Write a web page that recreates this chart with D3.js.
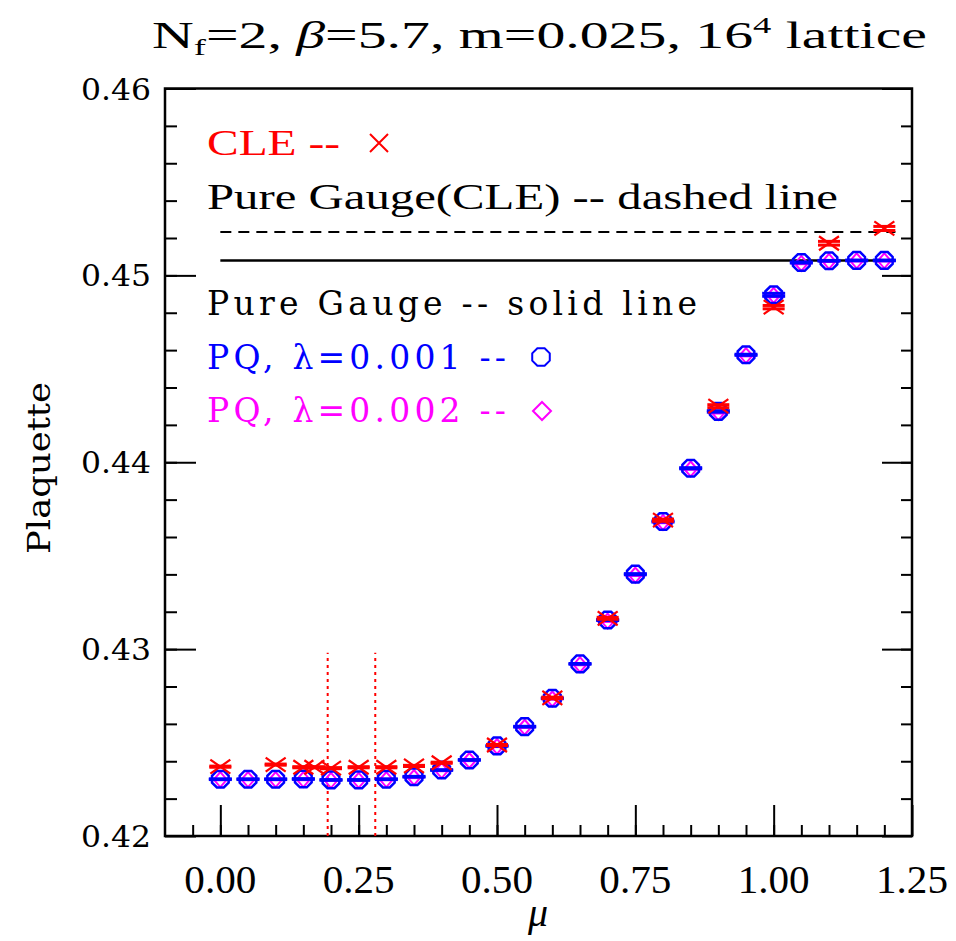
<!DOCTYPE html>
<html>
<head>
<meta charset="utf-8">
<script src="https://cdn.jsdelivr.net/npm/d3@7"></script>
<style>
  body { margin: 0; background: #fff; }
  svg { display: block; }
</style>
</head>
<body>
<div class="chart"></div>
<script>
const width = 956;
const height = 941;
const margin = { left: 165, right: 44, top: 88.5, bottom: 105 };

// mu values of the PQ runs
const mu = [0, 0.05, 0.10, 0.15, 0.20, 0.25, 0.30, 0.35, 0.40, 0.45, 0.50, 0.55, 0.60,
            0.65, 0.70, 0.75, 0.80, 0.85, 0.90, 0.95, 1.00, 1.05, 1.10, 1.15, 1.20];
// PQ, lambda=0.001 (blue octagons)
const pq001 = [0.42304, 0.42304, 0.42304, 0.42305, 0.42300, 0.42300, 0.42304, 0.42317, 0.42353,
               0.42407, 0.42482, 0.42585, 0.42737, 0.42921, 0.43156, 0.43401, 0.43683, 0.43968,
               0.44272, 0.44575, 0.44896, 0.45069, 0.45078, 0.45080, 0.45080];
const pq001Err = [0.00002, 0.00002, 0.00002, 0.00002, 0.00002, 0.00002, 0.00002, 0.00002, 0.00002,
                  0.00002, 0.00002, 0.00002, 0.00002, 0.00002, 0.00003, 0.00003, 0.00003, 0.00003,
                  0.00004, 0.00003, 0.00008, 0.00003, 0.00002, 0.00002, 0.00002];
// PQ, lambda=0.002 (magenta diamonds)
const pq002 = [0.42302, 0.42302, 0.42302, 0.42302, 0.42298, 0.42298, 0.42302, 0.42313, 0.42350,
               0.42404, 0.42479, 0.42582, 0.42733, 0.42917, 0.43150, 0.43396, 0.43678, 0.43964,
               0.44266, 0.44571, 0.44893, 0.45064, 0.45075, 0.45078, 0.45078];

// CLE (red crosses)
const cleMu = [0, 0.10, 0.15, 0.17, 0.20, 0.25, 0.30, 0.35, 0.40, 0.50, 0.60, 0.70, 0.80, 0.90, 1.00, 1.10, 1.20];
const cle = [0.42371, 0.42382, 0.42368, 0.42368, 0.42363, 0.42368, 0.42368, 0.42375, 0.42392,
             0.42487, 0.42739, 0.43165, 0.43690, 0.44300, 0.44830, 0.45172, 0.45251];
const cleErr = [0.00003, 0.00003, 0.00003, 0.00003, 0.00003, 0.00003, 0.00003, 0.00003, 0.00003,
                0.00003, 0.00004, 0.00005, 0.00006, 0.00008, 0.00009, 0.00010, 0.00011];

// pure gauge references
const pureGaugeCLE = 0.45232;   // dashed
const pureGauge = 0.45080;      // solid
const refRange = [0, 1.22];
// red dotted markers
const dottedMu = [0.194, 0.28];
const dottedTop = 0.4298;

// axes
const xMajor = [0, 0.25, 0.5, 0.75, 1.0, 1.25];
const xLabels = ["0.00", "0.25", "0.50", "0.75", "1.00", "1.25"];
const xMinor = d3.range(-0.05, 1.25, 0.05);
const yMajor = [0.42, 0.43, 0.44, 0.45, 0.46];
const yLabels = ["0.42", "0.43", "0.44", "0.45", "0.46"];
const yMinor = d3.range(0.422, 0.46, 0.002);

const legendRows = [
    { text: "CLE --", color: "red", font: "serif", len: 133, y: 155 },
    { text: "Pure Gauge(CLE) -- dashed line", color: "black", font: "serif", len: 631, y: 209 },
    { text: "Pure Gauge -- solid line", color: "black", font: "wide", len: 490, y: 315 },
    { text: "PQ, \u03bb=0.001 --", color: "blue", font: "wide", len: 299, y: 369 },
    { text: "PQ, \u03bb=0.002 --", color: "magenta", font: "wide", len: 299, y: 422 }
];

const serif = "'Liberation Serif', 'DejaVu Serif', serif";
const wide = "'DejaVu Serif', 'Liberation Serif', serif";

const svg = d3.select(".chart").append("svg")
    .attr("width", width)
    .attr("height", height);

const x = d3.scaleLinear()
    .domain([-0.1, 1.25])
    .range([margin.left, width - margin.right]);

const y = d3.scaleLinear()
    .domain([0.42, 0.46])
    .range([height - margin.bottom, margin.top]);

const x0 = margin.left, x1 = width - margin.right;
const y0 = height - margin.bottom, y1 = margin.top;

// inward ticks on bottom, left and right
function tickAxis(axis, transform, size) {
    svg.append("g")
        .attr("transform", transform)
        .call(axis.tickSize(size).tickSizeOuter(0).tickFormat(""))
        .call(g => g.select(".domain").remove())
        .call(g => g.selectAll("line").attr("stroke", "black").attr("stroke-width", 2));
}
tickAxis(d3.axisBottom(x).tickValues(xMajor), `translate(0,${y0})`, -31);
tickAxis(d3.axisBottom(x).tickValues(xMinor), `translate(0,${y0})`, -11);
tickAxis(d3.axisLeft(y).tickValues(yMajor), `translate(${x0},0)`, -31);
tickAxis(d3.axisLeft(y).tickValues(yMinor), `translate(${x0},0)`, -12);
tickAxis(d3.axisRight(y).tickValues(yMajor), `translate(${x1},0)`, -30);
tickAxis(d3.axisRight(y).tickValues(yMinor), `translate(${x1},0)`, -11);

// frame
svg.append("rect")
    .attr("x", x0).attr("y", y1)
    .attr("width", x1 - x0).attr("height", y0 - y1)
    .attr("fill", "none")
    .attr("stroke", "black")
    .attr("stroke-width", 2.5);

// tick labels
svg.selectAll("text.xlab")
    .data(xMajor)
    .enter().append("text")
    .attr("class", "xlab")
    .attr("x", d => x(d))
    .attr("y", 893)
    .attr("text-anchor", "middle")
    .attr("font-family", serif)
    .attr("font-size", 39)
    .attr("textLength", 72)
    .attr("lengthAdjust", "spacingAndGlyphs")
    .text((d, i) => xLabels[i]);

svg.selectAll("text.ylab")
    .data(yMajor)
    .enter().append("text")
    .attr("class", "ylab")
    .attr("x", 151)
    .attr("y", d => y(d) + 11)
    .attr("text-anchor", "end")
    .attr("font-family", wide)
    .attr("font-size", 30)
    .attr("textLength", 70)
    .attr("lengthAdjust", "spacingAndGlyphs")
    .text((d, i) => yLabels[i]);

// axis titles
svg.append("text")
    .attr("x", 538)
    .attr("y", 926)
    .attr("text-anchor", "middle")
    .attr("font-family", serif)
    .attr("font-style", "italic")
    .attr("font-size", 40)
    .text("\u03bc");

svg.append("text")
    .attr("transform", "translate(50,468) rotate(-90)")
    .attr("text-anchor", "middle")
    .attr("font-family", wide)
    .attr("font-size", 31)
    .attr("textLength", 172)
    .attr("lengthAdjust", "spacingAndGlyphs")
    .text("Plaquette");

// title
const title = svg.append("text")
    .attr("x", 152)
    .attr("y", 48)
    .attr("font-family", serif)
    .attr("font-size", 38)
    .attr("textLength", 775)
    .attr("lengthAdjust", "spacingAndGlyphs");
title.append("tspan").text("N");
title.append("tspan").attr("font-size", 24).attr("dy", 7).text("f");
title.append("tspan").attr("dy", -7).text("=2,  ");
title.append("tspan").attr("font-style", "italic").text("\u03b2");
title.append("tspan").text("=5.7,  m=0.025,  16");
title.append("tspan").attr("font-size", 24).attr("dy", -15).text("4");
title.append("tspan").attr("dy", 15).text("  lattice");

// reference lines
svg.append("line")
    .attr("x1", x(refRange[0])).attr("x2", x(refRange[1]))
    .attr("y1", y(pureGaugeCLE)).attr("y2", y(pureGaugeCLE))
    .attr("stroke", "black").attr("stroke-width", 2)
    .attr("stroke-dasharray", "11 7");

svg.append("line")
    .attr("x1", x(refRange[0])).attr("x2", x(refRange[1]))
    .attr("y1", y(pureGauge)).attr("y2", y(pureGauge))
    .attr("stroke", "black").attr("stroke-width", 2.5);

svg.selectAll("line.dotted")
    .data(dottedMu)
    .enter().append("line")
    .attr("class", "dotted")
    .attr("x1", d => x(d)).attr("x2", d => x(d))
    .attr("y1", y(0.42)).attr("y2", y(dottedTop))
    .attr("stroke", "red").attr("stroke-width", 2)
    .attr("stroke-dasharray", "3 4");

// marker shapes
const octagon = r => d3.line()(d3.range(8).map(i => {
    const a = Math.PI / 8 + i * Math.PI / 4;
    return [r * Math.cos(a), r * Math.sin(a)];
})) + "Z";
const diamond = (w, h) => `M0,${-h}L${w},0L0,${h}L${-w},0Z`;
const cross = (w, h) => `M${-w},${-h}L${w},${h}M${-w},${h}L${w},${-h}`;

// error bars: vertical line plus caps
function errorBars(xs, ys, es, color, capW, sw) {
    const g = svg.append("g").attr("stroke", color).attr("stroke-width", sw);
    xs.forEach((m, i) => {
        const cx = x(m), lo = y(ys[i] - es[i]), hi = y(ys[i] + es[i]);
        g.append("line").attr("x1", cx).attr("x2", cx).attr("y1", lo).attr("y2", hi);
        g.append("line").attr("x1", cx - capW).attr("x2", cx + capW).attr("y1", lo).attr("y2", lo);
        g.append("line").attr("x1", cx - capW).attr("x2", cx + capW).attr("y1", hi).attr("y2", hi);
    });
}

// magenta diamonds
errorBars(mu, pq002, pq001Err, "magenta", 10, 2.5);
svg.selectAll("path.pq002")
    .data(mu)
    .enter().append("path")
    .attr("class", "pq002")
    .attr("transform", (d, i) => `translate(${x(d)},${y(pq002[i])})`)
    .attr("d", diamond(6.5, 7.5))
    .attr("fill", "none").attr("stroke", "magenta").attr("stroke-width", 2);

// blue octagons
svg.selectAll("path.pq001")
    .data(mu)
    .enter().append("path")
    .attr("class", "pq001")
    .attr("transform", (d, i) => `translate(${x(d)},${y(pq001[i])})`)
    .attr("d", octagon(9))
    .attr("fill", "none").attr("stroke", "blue").attr("stroke-width", 2.5);
errorBars(mu, pq001, pq001Err, "blue", 11.5, 3);

// red crosses
errorBars(cleMu, cle, cleErr, "red", 11, 3);
svg.selectAll("path.cle")
    .data(cleMu)
    .enter().append("path")
    .attr("class", "cle")
    .attr("transform", (d, i) => `translate(${x(d)},${y(cle[i])})`)
    .attr("d", cross(10, 7))
    .attr("fill", "none").attr("stroke", "red").attr("stroke-width", 2.2);

// legend
const legend = svg.append("g");
legendRows.forEach(r => {
    legend.append("text")
        .attr("x", 207)
        .attr("y", r.y)
        .attr("fill", r.color)
        .attr("font-family", r.font === "serif" ? serif : wide)
        .attr("font-size", r.font === "serif" ? 36 : 33)
        .attr("textLength", r.len)
        .attr("lengthAdjust", r.font === "serif" ? "spacingAndGlyphs" : "spacing")
        .text(r.text);
});
legend.append("path")
    .attr("transform", "translate(379,143)")
    .attr("d", cross(9, 9))
    .attr("fill", "none").attr("stroke", "red").attr("stroke-width", 2);
legend.append("path")
    .attr("transform", "translate(541,357)")
    .attr("d", octagon(9.5))
    .attr("fill", "none").attr("stroke", "blue").attr("stroke-width", 2);
legend.append("path")
    .attr("transform", "translate(542,411)")
    .attr("d", diamond(9, 9))
    .attr("fill", "none").attr("stroke", "magenta").attr("stroke-width", 2);
</script>
</body>
</html>
